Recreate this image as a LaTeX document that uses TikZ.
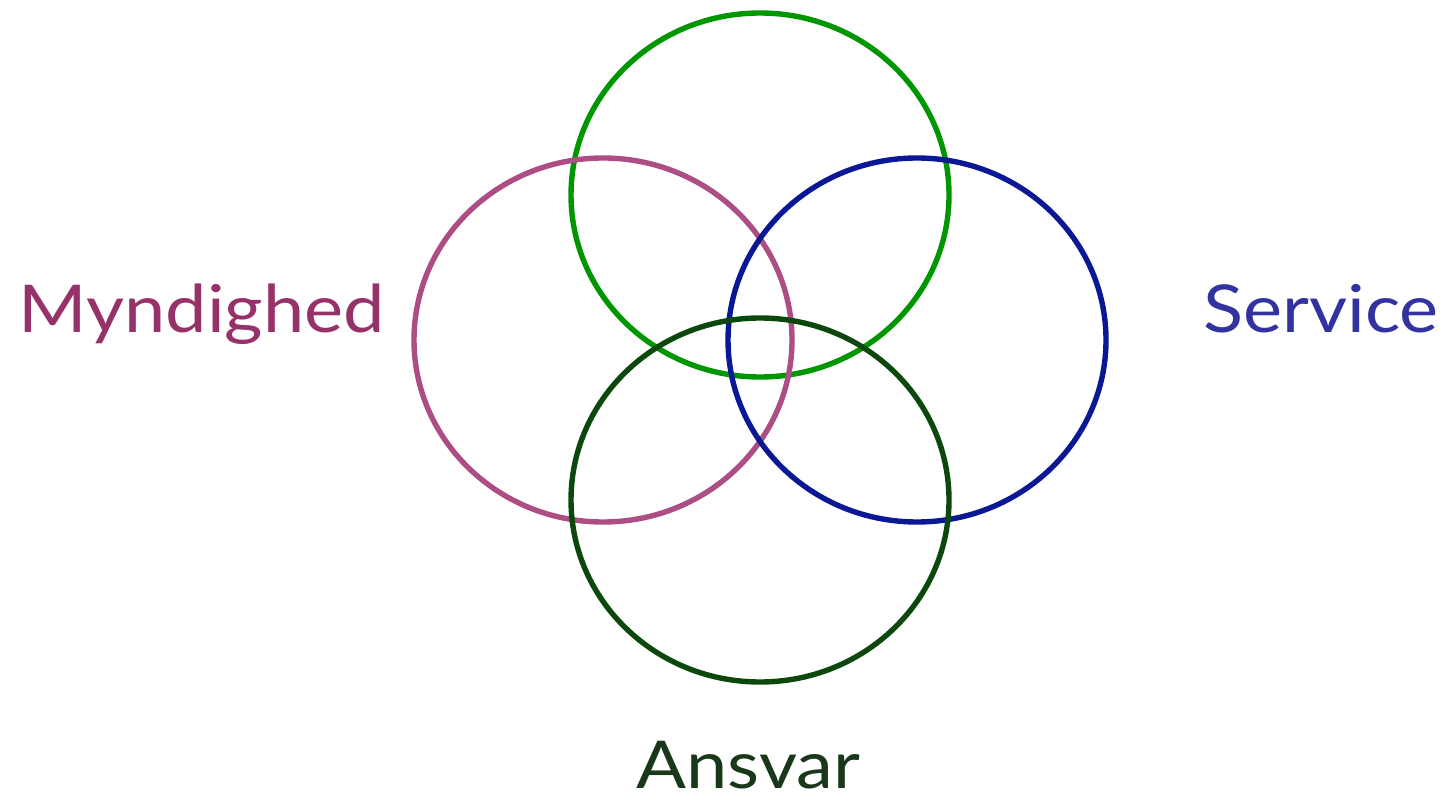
\documentclass[tikz,border=0pt]{standalone}
\usepackage{fontspec}
\newfontfamily\labelfont[FakeStretch=1.12]{Lato}
\usetikzlibrary{positioning}

\definecolor{topgreen}{RGB}{0,150,0}
\definecolor{ringpink}{RGB}{172,78,132}
\definecolor{ringblue}{RGB}{10,24,150}
\definecolor{darkgreen}{RGB}{12,72,12}
\definecolor{textpink}{RGB}{150,50,105}
\definecolor{textblue}{RGB}{50,50,160}
\definecolor{textgreen}{RGB}{25,55,25}

\tikzset{label text/.style={anchor=base west, inner sep=0pt, font=\labelfont\fontsize{33}{40}\selectfont}}

\begin{document}
\begin{tikzpicture}[x=0.5pt,y=-0.5pt]
      \useasboundingbox (0,0) rectangle (1443,801);

      % circle centres
      \coordinate (top) at (760,195);
      \coordinate (left) at (603,340);
      \coordinate (right) at (917,340);
      \coordinate (bottom) at (760,500);

      % circles
      \foreach \c/\col in {top/topgreen,left/ringpink,right/ringblue,bottom/darkgreen}
      \draw[\col, line width=2.7pt] (\c) ellipse [x radius=189, y radius=182];

      % labels
      \node[label text, textpink] (myn) at (18,333) {Myndighed};
      \node[label text, textblue] (serv) at (1203,333) {Service};
      \node[label text, textgreen] (ansv) at (636,788) {Ansvar};
    \end{tikzpicture}
\end{document}
